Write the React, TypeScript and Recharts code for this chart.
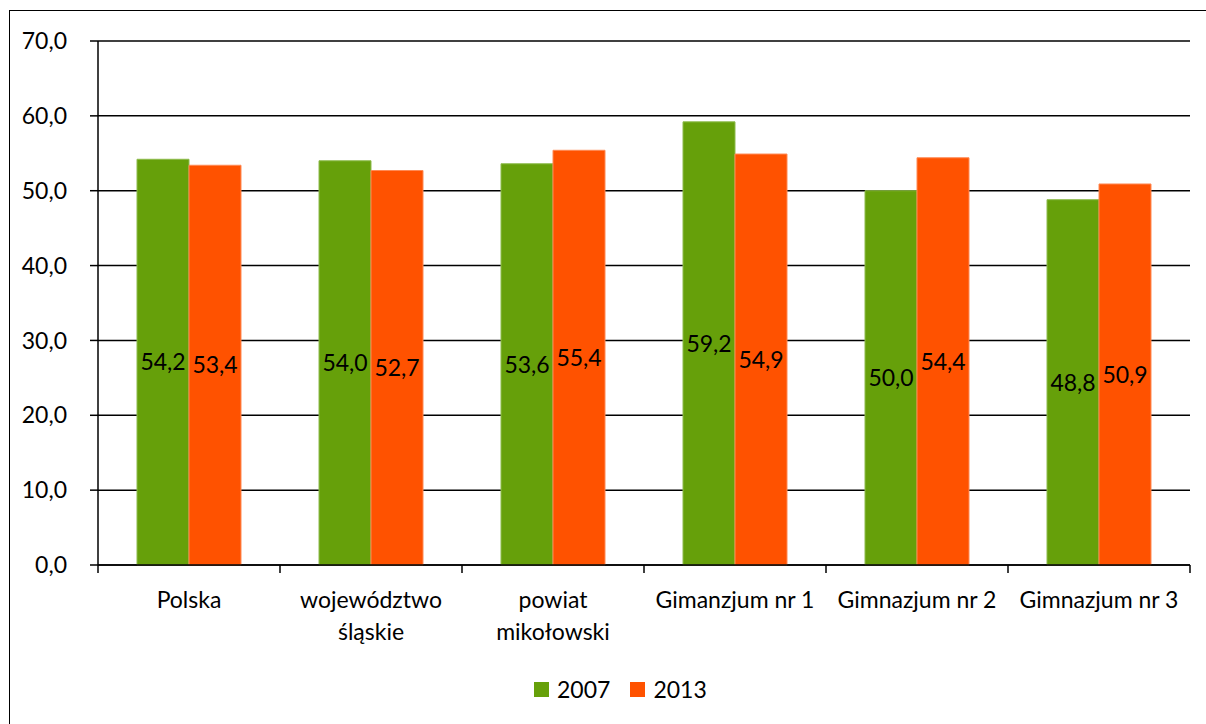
import { Bar, BarChart, CartesianGrid, LabelList, Legend, XAxis, YAxis } from 'recharts';

const categories = ['Polska', 'województwo śląskie', 'powiat mikołowski', 'Gimanzjum nr 1', 'Gimnazjum nr 2', 'Gimnazjum nr 3'];
const categoryLines = [['Polska'], ['województwo', 'śląskie'], ['powiat', 'mikołowski'], ['Gimanzjum nr 1'], ['Gimnazjum nr 2'], ['Gimnazjum nr 3']];
const values2007 = [54.2, 54.0, 53.6, 59.2, 50.0, 48.8];
const values2013 = [53.4, 52.7, 55.4, 54.9, 54.4, 50.9];
const yTicks = [0, 10, 20, 30, 40, 50, 60, 70];

const data = categories.map((name, i) => ({ name, idx: i, y2007: values2007[i], y2013: values2013[i] }));

const W = 1206;
const H = 724;
const PLOT_LEFT = 98;
const PLOT_RIGHT = 1190;
const BAND = (PLOT_RIGHT - PLOT_LEFT) / categories.length;
const FONT = 'Lato, "Open Sans", sans-serif';
const FS = 23;
const GREEN = '#66A00A';
const ORANGE = '#FF5200';

const fmt = (v: any) => Number(v).toFixed(1).replace('.', ',');

function CategoryTick(props: any) {
  const { x, y, payload, index } = props;
  const lines = categoryLines[payload.index ?? index] || [String(payload.value)];
  const axisY = y - 8;
  return (
    <g>
      <line x1={x - BAND / 2} x2={x - BAND / 2} y1={axisY} y2={axisY + 8} stroke="#000" strokeWidth={1.5} />
      {index === categories.length - 1 && (
        <line x1={x + BAND / 2} x2={x + BAND / 2} y1={axisY} y2={axisY + 8} stroke="#000" strokeWidth={1.5} />
      )}
      <text textAnchor="middle" fontFamily={FONT} fontSize={FS} fill="#000">
        {lines.map((l, i) => (
          <tspan key={i} x={x} y={y + 35 + i * 32}>{l}</tspan>
        ))}
      </text>
    </g>
  );
}

function LegendContent(props: any) {
  const items = props.payload || [];
  return (
    <div style={{ display: 'flex', alignItems: 'center', gap: 20, fontFamily: FONT, fontSize: FS, color: '#000' }}>
      {items.map((it: any) => (
        <div key={it.value} style={{ display: 'flex', alignItems: 'center', gap: 8 }}>
          <span style={{ display: 'inline-block', width: 15, height: 15, background: it.color }} />
          <span>{it.value}</span>
        </div>
      ))}
    </div>
  );
}

export default function App() {
  return (
    <div style={{ position: 'absolute', left: 0, top: 0, width: W, height: H, overflow: 'hidden', background: '#fff' }}>
      <div style={{ position: 'absolute', left: 9, top: 10, width: 1220, height: 740, border: '1.5px solid #000', boxSizing: 'border-box' }} />
      <BarChart
        width={W}
        height={H}
        data={data}
        margin={{ top: 41, right: W - PLOT_RIGHT, bottom: 59, left: 10 }}
        barGap={0}
        barCategoryGap={39}
      >
        <CartesianGrid vertical={false} stroke="#000" strokeWidth={1.5} />
        <XAxis
          dataKey="name"
          height={100}
          axisLine={{ stroke: '#000', strokeWidth: 1.5 }}
          tickLine={false}
          tickSize={8}
          tickMargin={0}
          interval={0}
          tick={<CategoryTick />}
        />
        <YAxis
          width={88}
          domain={[0, 70]}
          ticks={yTicks}
          tickFormatter={fmt}
          axisLine={{ stroke: '#000', strokeWidth: 1.5 }}
          tickLine={{ stroke: '#000', strokeWidth: 1.5 }}
          tickSize={8}
          tickMargin={23}
          tick={{ fill: '#000', fontSize: FS, fontFamily: FONT }}
        />
        <Legend
          layout="horizontal"
          verticalAlign="middle"
          align="center"
          content={<LegendContent />}
          wrapperStyle={{ left: 534, top: 675, width: 220, height: 30 }}
        />
        <Bar dataKey="y2007" name="2007" fill={GREEN} stroke="#8DBB4C" strokeWidth={1} barSize={52} isAnimationActive={false}>
          <LabelList dataKey="y2007" position="center" formatter={fmt} fill="#000" fontSize={FS} fontFamily={FONT} />
        </Bar>
        <Bar dataKey="y2013" name="2013" fill={ORANGE} stroke="#FF8A55" strokeWidth={1} barSize={52} isAnimationActive={false}>
          <LabelList dataKey="y2013" position="center" formatter={fmt} fill="#000" fontSize={FS} fontFamily={FONT} />
        </Bar>
      </BarChart>
    </div>
  );
}
